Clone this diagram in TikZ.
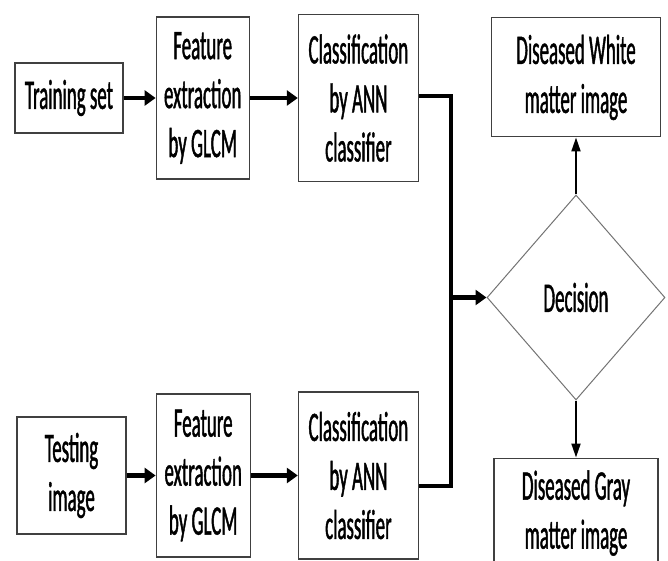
\documentclass[tikz,border=0pt]{standalone}
\usepackage{fontspec}
\setmainfont{Carlito}[FakeStretch=0.45,FakeBold=1]
\usepackage{tikz}
\usetikzlibrary{arrows.meta,positioning,shapes.geometric}

\begin{document}
\begin{tikzpicture}[
  x=1pt, y=1pt,
  font=\fontsize{42}{49}\selectfont,
  box/.style={draw=black!75, line width=1.2pt, align=center, inner sep=0pt},
  arr/.style={-{Triangle[length=11pt,width=15pt]}, line width=4.5pt},
  link/.style={line width=4pt},
  thinarr/.style={-{Triangle[length=14pt,width=9pt]}, line width=2pt}
]
\useasboundingbox (0,0) rectangle (668,-561);
% training branch
\node[box, minimum width=108pt, minimum height=70pt] (train) at (69,-98) {Training set};
\node[box, right=32pt of train, minimum width=93pt, minimum height=162pt] (feat1) {Feature\\extraction\\by GLCM};
\node[box, right=48pt of feat1, minimum width=120pt, minimum height=167pt] (cls1) {Classification\\by ANN\\classifier};
% testing branch
\node[box, minimum width=109pt, minimum height=117pt] (test) at (71.5,-475.5) {Testing\\image};
\node[box, right=29pt of test, minimum width=94pt, minimum height=163pt] (feat2) {Feature\\extraction\\by GLCM};
\node[box, right=47pt of feat2, minimum width=120pt, minimum height=167pt] (cls2) {Classification\\by ANN\\classifier};
% decision and outputs
\node[diamond, draw=black!55, line width=1pt, inner sep=0pt, aspect=0.87,
  minimum width=178pt, minimum height=205pt] (dec) at (576,-297.5) {Decision};
\node[box, above=57pt of dec, minimum width=169pt, minimum height=119pt] (white) {Diseased White\\matter image};
\node[box, below=57pt of dec, minimum width=164pt, minimum height=110pt] (gray) {Diseased Gray\\matter image};
\coordinate[left=36pt of dec.west] (join);

\draw[arr] (train.east) -- (train.east -| feat1.west);
\draw[arr] (feat1.east) -- (feat1.east -| cls1.west);
\draw[arr] (test.east) -- (test.east -| feat2.west);
\draw[arr] (feat2.east) -- (feat2.east -| cls2.west);
\draw[link] ([yshift=1.5pt]cls1.east) -| (join);
\draw[link] ([yshift=-10.5pt]cls2.east) -| (join);
\draw[arr] (join) -- (dec.west);
\draw[thinarr] (dec.north) -- (white.south);
\draw[thinarr] (dec.south) -- (gray.north);
\end{tikzpicture}
\end{document}
